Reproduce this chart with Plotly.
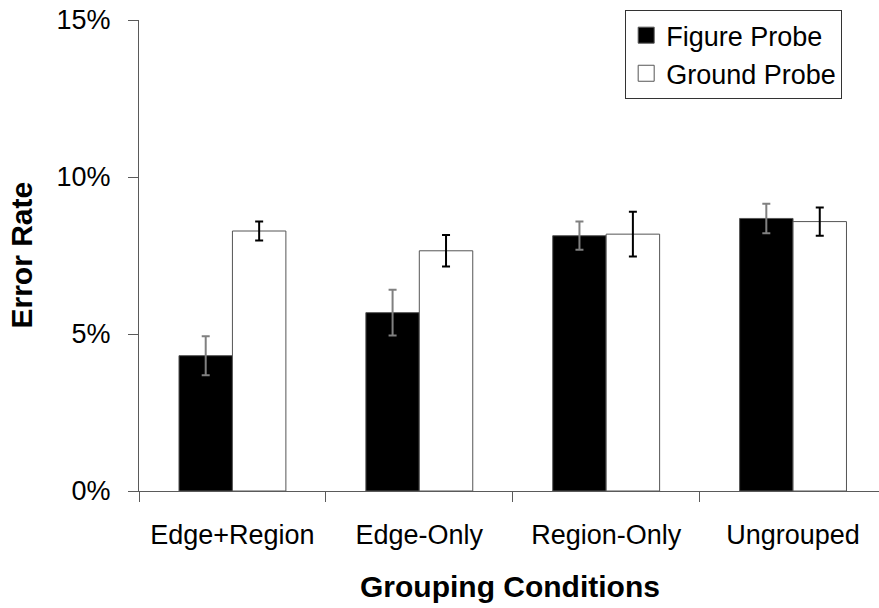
import plotly.graph_objects as go

categories = ["Edge+Region", "Edge-Only", "Region-Only", "Ungrouped"]
figure_probe = [4.31, 5.68, 8.13, 8.68]
figure_err = [0.62, 0.73, 0.45, 0.47]
ground_probe = [8.28, 7.65, 8.18, 8.58]
ground_err = [0.30, 0.50, 0.71, 0.45]
y_ticks = [0, 5, 10, 15]
y_tick_labels = ["0%", "5%", "10%", "15%"]
series_names = ["Figure Probe", "Ground Probe"]

FONT = "Liberation Sans, Arial, sans-serif"
AXIS_COLOR = "#5a5a5a"

fig = go.Figure()
fig.add_trace(go.Bar(
    x=categories, y=figure_probe, name=series_names[0], showlegend=False,
    marker=dict(color="black", line=dict(color="#555555", width=1)),
    error_y=dict(type="data", array=figure_err, visible=True,
                 color="#808080", thickness=2, width=4),
))
fig.add_trace(go.Bar(
    x=categories, y=ground_probe, name=series_names[1], showlegend=False,
    marker=dict(color="white", line=dict(color="#555555", width=1)),
    error_y=dict(type="data", array=ground_err, visible=True,
                 color="black", thickness=2, width=4),
))
# legend proxies
fig.add_trace(go.Scatter(
    x=[None], y=[None], mode="markers", name=series_names[0],
    marker=dict(symbol="square", size=18, color="black",
                line=dict(color="#555555", width=1)),
))
fig.add_trace(go.Scatter(
    x=[None], y=[None], mode="markers", name=series_names[1],
    marker=dict(symbol="square", size=18, color="white",
                line=dict(color="#555555", width=1)),
))

fig.update_layout(
    width=879, height=608,
    margin=dict(l=139, r=0, t=20, b=117, pad=0, autoexpand=False),
    paper_bgcolor="white", plot_bgcolor="white",
    barmode="group", bargap=0.428, bargroupgap=0,
    font=dict(family=FONT, size=27, color="black"),
    showlegend=True,
    legend=dict(
        x=0.657, y=1.021, xanchor="left", yanchor="top",
        bordercolor="#333333", borderwidth=1, bgcolor="white",
        font=dict(family=FONT, size=27, color="black"),
        itemsizing="trace", tracegroupgap=0,
    ),
    xaxis=dict(
        type="category", range=[-0.5, 3.46],
        showline=True, linecolor=AXIS_COLOR, linewidth=1,
        ticks="outside", ticklen=10, tickcolor=AXIS_COLOR, tickwidth=1,
        tickson="boundaries", ticklabelstandoff=20,
        tickfont=dict(family=FONT, size=27, color="black"),
        showgrid=False, zeroline=False,
    ),
    yaxis=dict(
        range=[0, 15], tickmode="array", tickvals=y_ticks, ticktext=y_tick_labels,
        showline=True, linecolor=AXIS_COLOR, linewidth=1,
        ticks="outside", ticklen=10, tickcolor=AXIS_COLOR, tickwidth=1,
        ticklabelstandoff=12,
        tickfont=dict(family=FONT, size=27, color="black"),
        showgrid=False, zeroline=False,
    ),
    annotations=[
        dict(text="<b>Error Rate</b>", xref="paper", yref="paper",
             x=-0.1554, y=0.5, xanchor="center", yanchor="middle",
             xshift=-3, textangle=-90, showarrow=False,
             font=dict(family=FONT, size=30, color="black")),
        dict(text="<b>Grouping Conditions</b>", xref="paper", yref="paper",
             x=0.502, y=-0.2038, xanchor="center", yanchor="middle",
             showarrow=False,
             font=dict(family=FONT, size=30, color="black")),
    ],
)

fig.write_html("out.html", config={"displayModeBar": False},
               post_script="document.body.style.margin='0';")
